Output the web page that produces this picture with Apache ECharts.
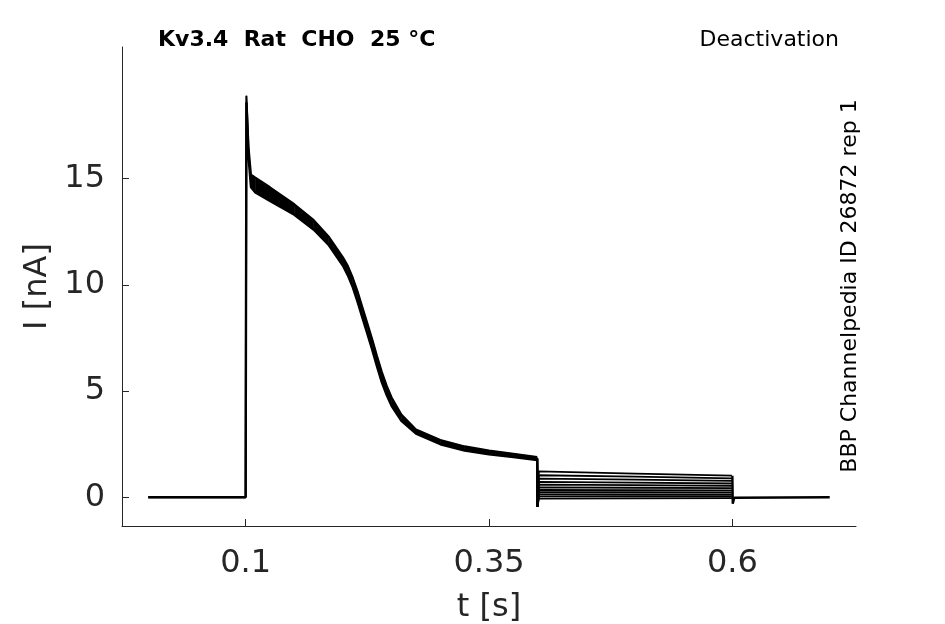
<!DOCTYPE html>
<html>
<head>
<meta charset="utf-8">
<title>Kv3.4 Rat CHO 25 °C - Deactivation</title>
<script src="https://cdn.jsdelivr.net/npm/echarts@6/dist/echarts.min.js"></script>
<style>
  html, body { margin: 0; padding: 0; background: #fff; }
  #main { width: 945px; height: 624px; }
</style>
</head>
<body>
<div id="main"></div>
<script>
var pulseTime  = [0, 0.1, 0.1008, 0.103, 0.1055, 0.11, 0.125, 0.15, 0.17, 0.185, 0.2, 0.205, 0.21, 0.215, 0.22, 0.225, 0.23, 0.235, 0.24, 0.245, 0.25, 0.26, 0.275, 0.3, 0.325, 0.35, 0.375, 0.3995];
var pulseUpper = [0, 0, 18.9, 16.5, 15.2, 15.05, 14.6, 13.8, 13.05, 12.3, 11.3, 10.9, 10.35, 9.7, 8.95, 8.2, 7.45, 6.65, 5.9, 5.25, 4.7, 3.9, 3.2, 2.7, 2.4, 2.2, 2.05, 1.9];
var pulseLower = [0, 0, 18.6, 16.0, 14.6, 14.35, 13.95, 13.3, 12.6, 11.9, 10.9, 10.45, 9.9, 9.2, 8.45, 7.7, 6.95, 6.15, 5.4, 4.8, 4.3, 3.6, 3.0, 2.5, 2.2, 2.02, 1.9, 1.75];

// deactivation tails (0.4 s - 0.6 s), one value per sweep
var tailTime  = [0.3995, 0.3998, 0.4012, 0.5, 0.5995];
var tailPre   = 1.83;
var tailSpike = -0.45;
var tailStart = [1.22, 1.04, 0.88, 0.73, 0.60, 0.47, 0.35, 0.24, 0.14, 0.04, -0.06];
var tailMid   = [1.12, 0.97, 0.83, 0.69, 0.57, 0.45, 0.34, 0.24, 0.14, 0.05, -0.05];
var tailEnd   = [1.02, 0.89, 0.77, 0.65, 0.54, 0.43, 0.33, 0.23, 0.14, 0.05, -0.04];

// back to holding potential
var postTime   = [0.6, 0.6004, 0.602, 0.7];
var postValues = [1.02, -0.3, -0.02, 0];

var xTicks = [0.1, 0.35, 0.6];
var yTicks = [0, 5, 10, 15];

var textColor = '#262626';
var fontName = 'DejaVu Sans';

function pairs(xs, ys) {
    var out = [];
    for (var i = 0; i < xs.length; i++) {
        out.push([xs[i], ys[i]]);
    }
    return out;
}

// fill between the two envelopes, one quad per segment
function renderBand(params, api) {
    var i = params.dataIndex;
    if (i >= pulseTime.length - 1) {
        return null;
    }
    var pts = [
        api.coord([api.value(0), api.value(1)]),
        api.coord([pulseTime[i + 1], pulseUpper[i + 1]]),
        api.coord([pulseTime[i + 1], pulseLower[i + 1]]),
        api.coord([api.value(0), api.value(2)])
    ];
    return {
        type: 'polygon',
        shape: { points: pts },
        style: { fill: '#000', stroke: '#000', lineWidth: 0.5 }
    };
}

var series = [];
series.push({
    name: 'pulse band',
    type: 'custom',
    renderItem: renderBand,
    silent: true,
    data: pulseTime.map(function (t, i) { return [t, pulseUpper[i], pulseLower[i]]; }),
    encode: { x: 0, y: [1, 2] }
});
series.push({
    name: 'pulse upper',
    type: 'line',
    data: pairs(pulseTime, pulseUpper),
    showSymbol: false,
    silent: true,
    lineStyle: { color: '#000', width: 2 }
});
series.push({
    name: 'pulse lower',
    type: 'line',
    data: pairs(pulseTime, pulseLower),
    showSymbol: false,
    silent: true,
    lineStyle: { color: '#000', width: 2.4 }
});
for (var k = 0; k < tailStart.length; k++) {
    series.push({
        name: 'sweep ' + (k + 1),
        type: 'line',
        data: pairs(tailTime, [tailPre, tailSpike, tailStart[k], tailMid[k], tailEnd[k]]),
        showSymbol: false,
        silent: true,
        lineStyle: { color: '#000', width: 1.8 }
    });
}
series.push({
    name: 'post',
    type: 'line',
    data: pairs(postTime, postValues),
    showSymbol: false,
    silent: true,
    lineStyle: { color: '#000', width: 2.4 }
});

var myChart = echarts.init(document.getElementById('main'));
var option = {
    animation: false,
    backgroundColor: '#fff',
    grid: { left: 122, right: 89, top: 47, bottom: 98, containLabel: false, outerBoundsMode: 'none' },
    xAxis: {
        type: 'value',
        min: -0.027,
        max: 0.727,
        name: 't [s]',
        nameLocation: 'middle',
        nameGap: 66,
        nameTextStyle: { color: textColor, fontFamily: fontName, fontSize: 32 },
        splitLine: { show: false },
        axisLine: { show: true, onZero: false, lineStyle: { color: textColor, width: 1 } },
        axisTick: { show: true, inside: true, length: 7, customValues: xTicks, lineStyle: { color: textColor } },
        axisLabel: {
            customValues: xTicks,
            color: textColor,
            fontFamily: fontName,
            fontSize: 32,
            margin: 22,
            formatter: function (v) { return String(v); }
        }
    },
    yAxis: {
        type: 'value',
        min: -1.35,
        max: 21.2,
        name: 'I [nA]',
        nameLocation: 'middle',
        nameGap: 66,
        nameTextStyle: { color: textColor, fontFamily: fontName, fontSize: 32 },
        splitLine: { show: false },
        axisLine: { show: true, onZero: false, lineStyle: { color: textColor, width: 1 } },
        axisTick: { show: true, inside: true, length: 7, customValues: yTicks, lineStyle: { color: textColor } },
        axisLabel: {
            customValues: yTicks,
            color: textColor,
            fontFamily: fontName,
            fontSize: 32,
            margin: 17,
            padding: [5, 0, 0, 0]
        }
    },
    graphic: [
        {
            type: 'text',
            left: 158,
            top: 29,
            style: {
                text: 'Kv3.4  Rat  CHO  25 °C',
                fill: '#000',
                font: 'bold 22px "DejaVu Sans"'
            }
        },
        {
            type: 'text',
            right: 106,
            top: 29,
            style: {
                text: 'Deactivation',
                fill: '#000',
                font: '22px "DejaVu Sans"'
            }
        },
        {
            type: 'text',
            x: 850,
            y: 286,
            rotation: Math.PI / 2,
            style: {
                text: 'BBP Channelpedia ID 26872 rep 1',
                fill: '#000',
                font: '22px "DejaVu Sans"',
                align: 'center',
                verticalAlign: 'middle'
            }
        }
    ],
    series: series
};
myChart.setOption(option);
</script>
</body>
</html>
